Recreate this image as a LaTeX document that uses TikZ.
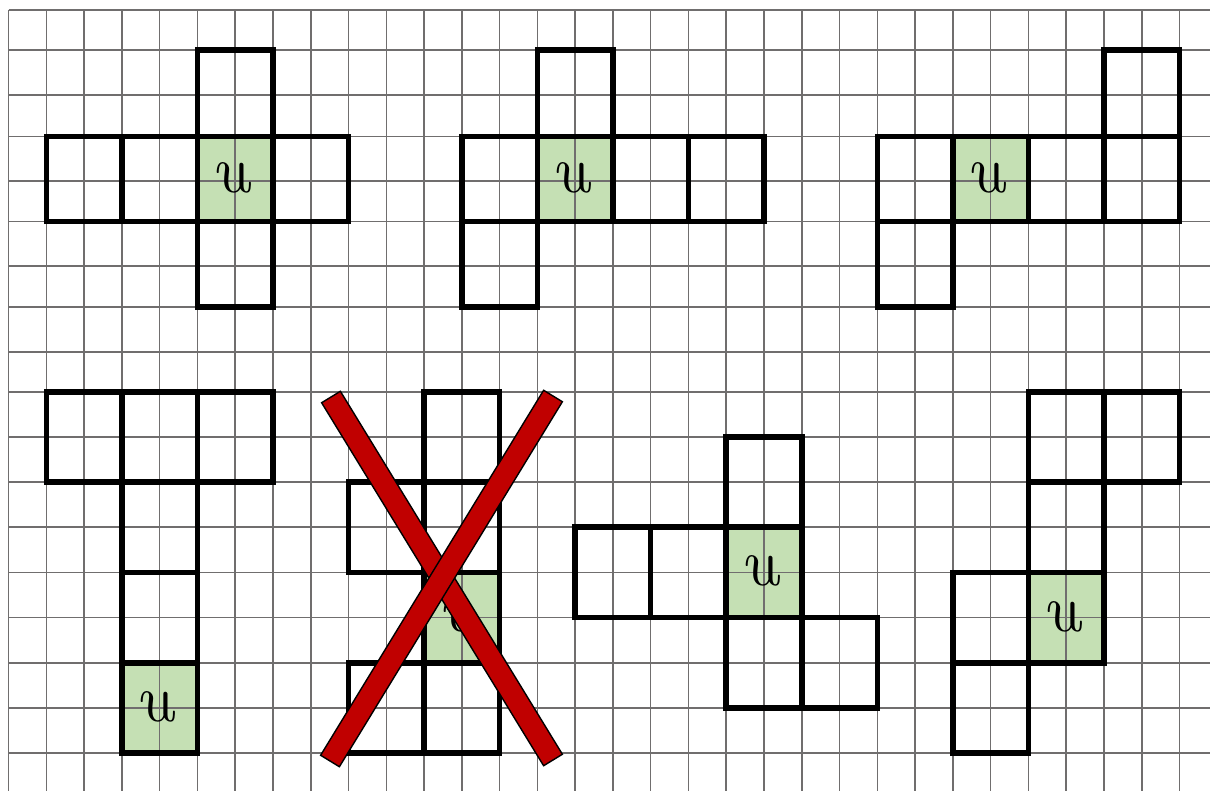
\documentclass[tikz,border=0pt]{standalone}
\usetikzlibrary{calc}
\definecolor{gridc}{RGB}{112,110,110}
\definecolor{ugreen}{RGB}{197,224,180}
\definecolor{xred}{RGB}{192,0,0}
\newcommand\Yr[1]{\ifcase\numexpr#1\relax 10\or 50\or 95\or 136.5\or 181\or 221.5\or 266\or 307\or 352\or 392\or 437\or 482\or 527\or 572.5\or 617.5\or 663\or 708\or 753\fi}
\newcommand\sq[2]{%
  \pgfmathsetmacro\sqxa{8.6+37.77*#1}%
  \pgfmathsetmacro\sqxb{8.6+37.77*(#1+2)}%
  \edef\sqya{\Yr{#2}}\edef\sqyb{\Yr{#2+2}}%
  \draw[figline] (\sqxa,\sqya) rectangle (\sqxb,\sqyb);}
\newcommand\gsq[2]{%
  \pgfmathsetmacro\sqxa{8.6+37.77*#1}%
  \pgfmathsetmacro\sqxb{8.6+37.77*(#1+2)}%
  \edef\sqya{\Yr{#2}}\edef\sqyb{\Yr{#2+2}}%
  \fill[ugreen] (\sqxa,\sqya) rectangle (\sqxb,\sqyb);}
\newcommand\usq[3]{%
  \pgfmathsetmacro\sqxa{8.6+37.77*(#1+1)-4.5}%
  \pgfmathsetmacro\sqya{(\Yr{#2}+\Yr{#2+2})/2-1}%
  \node[utext] (#3) at (\sqxa,\sqya) {u};}
\tikzset{
  gridl/.style={draw=gridc, line width=1.6pt},
  figline/.style={draw=black, line width=5.5pt, line join=miter},
  utext/.style={inner sep=0pt, font=\fontsize{68}{72}\selectfont\itshape, xslant=-0.25, text=black},
  xbar/.style={fill=xred, draw=black, line width=1.4pt, line join=miter}
}
\begin{document}
\begin{tikzpicture}[x=1pt,y=-1pt]
\useasboundingbox (0,0) rectangle (1210,791);
\fill[white] (0,0) rectangle (1210,791);
% green cells
\gsq{5}{3}
\gsq{14}{3}
\gsq{25}{3}
\gsq{3}{15}
\gsq{11}{13}
\gsq{19}{12}
\gsq{27}{13}
% grid
\foreach \r in {0,...,17} {\edef\yy{\Yr{\r}}\draw[gridl] (8.6,\yy) -- (1210,\yy);}
\foreach \c in {0,...,31} {\draw[gridl] ({8.6+37.77*\c},10) -- ({8.6+37.77*\c},791);}
% figure 1
\sq{1}{3}\sq{3}{3}\sq{5}{3}\sq{7}{3}\sq{5}{1}\sq{5}{5}
% figure 2
\sq{12}{3}\sq{14}{3}\sq{16}{3}\sq{18}{3}\sq{14}{1}\sq{12}{5}
% figure 3
\sq{23}{3}\sq{25}{3}\sq{27}{3}\sq{29}{3}\sq{29}{1}\sq{23}{5}
% figure 4
\sq{1}{9}\sq{3}{9}\sq{5}{9}\sq{3}{11}\sq{3}{13}\sq{3}{15}
% figure 5
\sq{11}{9}\sq{9}{11}\sq{11}{11}\sq{11}{13}\sq{9}{15}\sq{11}{15}
% figure 6
\sq{19}{10}\sq{15}{12}\sq{17}{12}\sq{19}{12}\sq{19}{14}\sq{21}{14}
% figure 7
\sq{27}{9}\sq{29}{9}\sq{27}{11}\sq{25}{13}\sq{27}{13}\sq{25}{15}
% letters
\usq{5}{3}{u1}
\usq{14}{3}{u2}
\usq{25}{3}{u3}
\usq{3}{15}{u4}
\usq{11}{13}{u5}
\usq{19}{12}{u6}
\usq{27}{13}{u7}
% red cross
\coordinate (xa) at (331,397);
\coordinate (xb) at (553,760);
\coordinate (xc) at (553,396);
\coordinate (xd) at (330,761);
\draw[xbar] ($(xa)!11pt!90:(xb)$) -- ($(xa)!11pt!-90:(xb)$) -- ($(xb)!11pt!90:(xa)$) -- ($(xb)!11pt!-90:(xa)$) -- cycle;
\draw[xbar] ($(xc)!11pt!90:(xd)$) -- ($(xc)!11pt!-90:(xd)$) -- ($(xd)!11pt!90:(xc)$) -- ($(xd)!11pt!-90:(xc)$) -- cycle;
\end{tikzpicture}
\end{document}
